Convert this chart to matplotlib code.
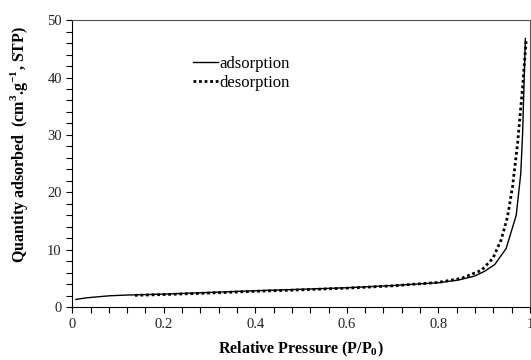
import matplotlib
matplotlib.use('Agg')
import matplotlib.pyplot as plt
from matplotlib.ticker import MultipleLocator

# isotherm data
ads_p = [0.008, 0.03, 0.05, 0.082, 0.12, 0.16, 0.2, 0.3, 0.4, 0.5, 0.6, 0.7,
         0.75, 0.8, 0.843, 0.879, 0.9, 0.923, 0.948, 0.970, 0.980, 0.984, 0.990]
ads_q = [1.33, 1.6, 1.75, 1.97, 2.1, 2.18, 2.26, 2.55, 2.85, 3.1, 3.37, 3.75,
         4.0, 4.24, 4.7, 5.4, 6.2, 7.4, 10.2, 16.0, 23.3, 30.3, 46.8]

des_p = [0.137, 0.2, 0.3, 0.4, 0.5, 0.6, 0.7, 0.8, 0.85, 0.894, 0.919, 0.937,
         0.951, 0.962, 0.973, 0.984, 0.992]
des_q = [2.05, 2.18, 2.45, 2.75, 3.0, 3.3, 3.7, 4.3, 5.0, 6.4, 8.5, 11.7,
         15.7, 21.0, 28.5, 38.4, 46.8]

plt.rcParams['font.family'] = ['Liberation Serif', 'DejaVu Serif']

fig = plt.figure(figsize=(5.31, 3.6), dpi=100)
ax = fig.add_axes([0.136, 0.147, 0.862, 0.797])

ax.plot(ads_p, ads_q, color='black', lw=1.0, label='adsorption')
ax.plot(des_p, des_q, color='black', lw=2.0, linestyle=(0, (1, 1)), label='desorption')

ax.set_xlim(0, 1)
ax.set_ylim(0, 50)
ax.xaxis.set_major_locator(MultipleLocator(0.2))
ax.xaxis.set_minor_locator(MultipleLocator(0.04))
ax.yaxis.set_major_locator(MultipleLocator(10))
ax.yaxis.set_minor_locator(MultipleLocator(2))
ax.set_xticks([0, 0.2, 0.4, 0.6, 0.8, 1.0])
ax.set_xticklabels(['0', '0.2', '0.4', '0.6', '0.8', '1'])

ax.tick_params(which='both', direction='out', labelsize=10.5, length=4, width=0.8,
               top=False, right=False, labelcolor='#222222')
ax.tick_params(axis='x', pad=4)

for s in ['top', 'right']:
    ax.spines[s].set_color('#555555')
    ax.spines[s].set_linewidth(0.8)

ax.set_xlabel('Relative Pressure (P/P$_\\mathregular{0}$)', fontsize=11.5, fontweight='bold', labelpad=6)
ax.set_ylabel('Quantity adsorbed  (cm$^\\mathregular{3}$.g$^\\mathregular{-1}$, STP)',
              fontsize=11.5, fontweight='bold')
ax.yaxis.set_label_coords(-0.093, 0.565)

ax.legend(loc='upper left', bbox_to_anchor=(0.231, 0.928), frameon=False, fontsize=12,
          handlelength=1.5, handletextpad=0.1, labelspacing=0.2)

fig.savefig('out.png', dpi=100)
